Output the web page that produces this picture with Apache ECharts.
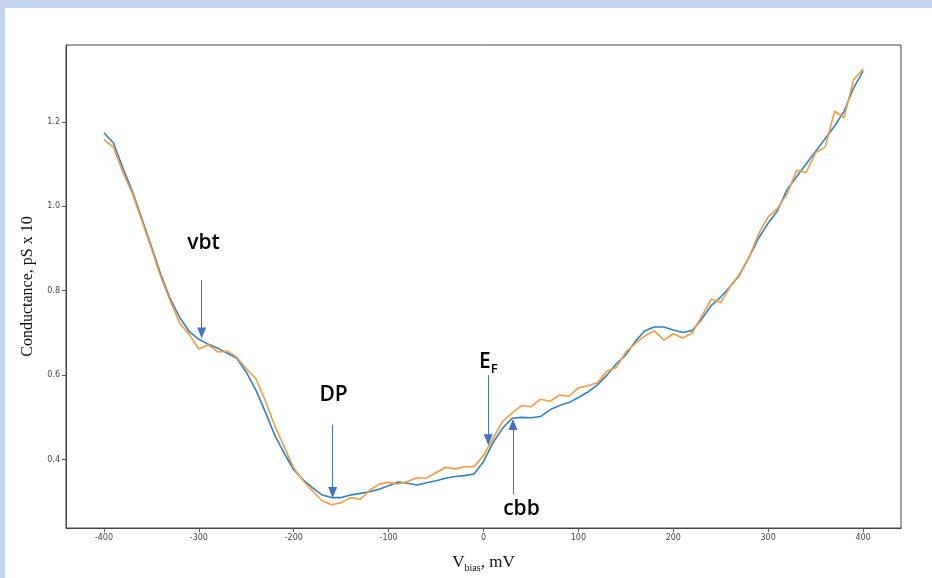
<!DOCTYPE html>
<html>
<head>
<meta charset="utf-8">
<script src="https://cdn.jsdelivr.net/npm/echarts@6/dist/echarts.min.js"></script>
<style>
html,body{margin:0;padding:0;background:#fff;}
#chart{width:932px;height:578px;}
</style>
</head>
<body>
<div id="chart"></div>
<script>
// Bias voltage (mV)
const voltage = [-400,-390,-380,-370,-360,-350,-340,-330,-320,-310,-300,-290,-280,-270,-260,-250,-240,-230,-220,-210,-200,-190,-180,-170,-160,-150,-140,-130,-120,-110,-100,-90,-80,-70,-60,-50,-40,-30,-20,-10,0,10,20,30,40,50,60,70,80,90,100,110,120,130,140,150,160,170,180,190,200,210,220,230,240,250,260,270,280,290,300,310,320,330,340,350,360,370,380,390,400];
// Smoothed conductance (blue)
const blueSeries = [1.174,1.150,1.090,1.035,0.970,0.905,0.838,0.780,0.736,0.703,0.685,0.673,0.664,0.652,0.640,0.607,0.565,0.513,0.458,0.415,0.376,0.352,0.333,0.316,0.310,0.310,0.316,0.320,0.324,0.330,0.338,0.347,0.344,0.340,0.345,0.350,0.356,0.360,0.362,0.366,0.395,0.440,0.474,0.498,0.500,0.499,0.502,0.518,0.528,0.535,0.547,0.560,0.577,0.600,0.627,0.648,0.680,0.705,0.714,0.714,0.707,0.701,0.706,0.733,0.765,0.785,0.810,0.838,0.880,0.925,0.960,0.990,1.040,1.070,1.100,1.130,1.160,1.190,1.225,1.280,1.320];
// Measured conductance (orange)
const orangeSeries = [1.158,1.140,1.080,1.030,0.965,0.900,0.832,0.775,0.722,0.696,0.662,0.672,0.655,0.657,0.642,0.615,0.592,0.540,0.480,0.430,0.380,0.350,0.325,0.302,0.293,0.298,0.310,0.306,0.327,0.342,0.346,0.342,0.348,0.357,0.356,0.369,0.382,0.378,0.383,0.383,0.410,0.450,0.490,0.510,0.528,0.525,0.543,0.538,0.553,0.550,0.570,0.575,0.582,0.610,0.618,0.655,0.675,0.693,0.705,0.683,0.698,0.688,0.700,0.740,0.780,0.772,0.810,0.840,0.880,0.935,0.975,0.995,1.030,1.085,1.080,1.127,1.140,1.225,1.210,1.300,1.325];
// Tick labels
const xTicks = [-400,-300,-200,-100,0,100,200,300,400];
const yTicks = [0.4,0.6,0.8,1.0,1.2];
// Annotations
const annotLabels = ['vbt','DP','E_F','cbb'];
const annotText = [[-295,0.914],[-158,0.553],[5,0.631],[40,0.282]];
const annotArrows = [[[-297,0.825],[-297,0.700]],[[-159,0.483],[-159,0.322]],[[5,0.600],[5,0.447]],[[31,0.317],[31,0.483]]];

const chart = echarts.init(document.getElementById('chart'));
const pair = (ys) => voltage.map((v,i)=>[v,ys[i]]);
const serif = '"Liberation Serif","DejaVu Serif",serif';
const sans = '"Open Sans",Lato,sans-serif';
const option = {
  animation:false,
  backgroundColor:'#fff',
  graphic:[
    {type:'rect',left:0,top:0,shape:{width:932,height:8},style:{fill:'#c4d4ec'},silent:true},
    {type:'rect',left:0,top:0,shape:{width:5,height:578},style:{fill:'#c4d4ec'},silent:true}
  ],
  grid:{left:66,right:31,top:45,bottom:50,show:true,borderColor:'#444',borderWidth:1,backgroundColor:'transparent'},
  xAxis:{
    type:'value',min:-440,max:440,
    name:'{a|V}{b|bias}{a|, mV}',nameLocation:'middle',nameGap:25,
    nameTextStyle:{rich:{a:{fontFamily:serif,fontSize:17,color:'#111'},b:{fontFamily:serif,fontSize:10,color:'#111',padding:[10,0,0,0]}}},
    axisLine:{show:true,onZero:false,lineStyle:{color:'#444'}},
    splitLine:{show:false},
    axisTick:{show:true,length:4,lineStyle:{color:'#555'},customValues:xTicks},
    axisLabel:{fontSize:8,color:'#444',margin:6,fontFamily:'"DejaVu Sans",sans-serif',customValues:xTicks}
  },
  yAxis:{
    type:'value',min:0.238,max:1.382,
    name:'Conductance, pS x 10',nameLocation:'middle',nameGap:30,nameRotate:90,
    nameTextStyle:{fontFamily:serif,fontSize:16,color:'#111'},
    axisLine:{show:true,onZero:false,lineStyle:{color:'#444'}},
    splitLine:{show:false},
    axisTick:{show:true,length:4,lineStyle:{color:'#555'},customValues:yTicks},
    axisLabel:{fontSize:8,color:'#444',margin:6,fontFamily:'"DejaVu Sans",sans-serif',customValues:yTicks,formatter:(v)=>v.toFixed(1)}
  },
  series:[
    {type:'line',name:'smoothed',data:pair(blueSeries),showSymbol:false,symbol:'none',
     lineStyle:{color:'#2f83c0',width:1.6},z:2},
    {type:'line',name:'measured',data:pair(orangeSeries),showSymbol:false,symbol:'none',
     lineStyle:{color:'#f59a3e',width:1.6},z:3,
     markLine:{silent:true,symbol:['none','triangle'],symbolSize:[9,11],
       lineStyle:{color:'#4472c4',width:1,type:'solid'},label:{show:false},
       data:annotArrows.map(a=>[{coord:a[0]},{coord:a[1]}])},
     markPoint:{silent:true,symbol:'circle',symbolSize:1,itemStyle:{color:'rgba(0,0,0,0)'},
       data:annotLabels.map((t,i)=>({coord:annotText[i],value:t,
         label:{show:true,position:'inside',
           formatter: t==='E_F' ? '{e|E}{f|F}' : t,
           fontFamily:sans,fontSize:21,fontWeight:600,color:'#000',
           rich:{e:{fontFamily:sans,fontSize:21,fontWeight:600,color:'#000'},f:{fontFamily:sans,fontSize:13,fontWeight:600,color:'#000',padding:[14,0,0,0]}}}}))}
    }
  ]
};
chart.setOption(option);
</script>
</body>
</html>
